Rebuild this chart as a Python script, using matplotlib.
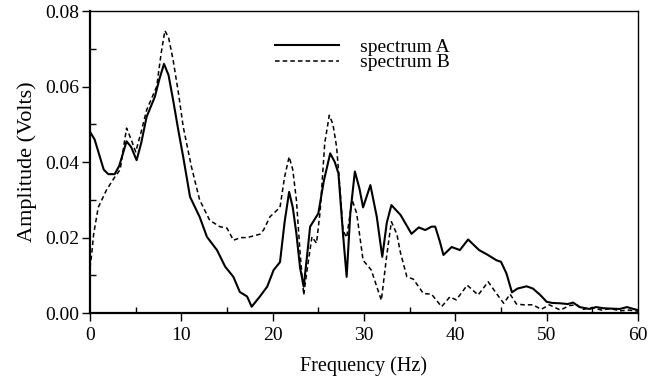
import matplotlib
matplotlib.use("Agg")
import matplotlib.pyplot as plt
from matplotlib.ticker import MultipleLocator, FormatStrFormatter

plt.rcParams['font.family'] = ['Liberation Serif', 'DejaVu Serif']

freq_a = [0.0, 0.5, 1.0, 1.5, 2.0, 2.7, 3.2, 4.0, 4.5, 5.1, 5.6, 6.2, 7.1, 7.6, 8.1, 8.6,
          9.1, 9.7, 10.2, 10.95, 12.0, 12.8, 13.9, 14.8, 15.7, 16.4, 17.2, 17.7, 18.6,
          19.4, 20.1, 20.8, 21.3, 21.8, 22.2, 22.6, 23.0, 23.4, 23.8, 24.1, 25.0, 25.6,
          26.3, 26.8, 27.2, 27.7, 28.1, 28.5, 29.0, 29.5, 29.9, 30.7, 31.4, 32.0, 32.5,
          33.0, 34.0, 35.2, 36.0, 36.7, 37.4, 37.8, 38.3, 38.7, 39.6, 40.5, 41.4, 42.6,
          43.5, 44.5, 45.0, 45.6, 46.2, 46.8, 47.8, 48.5, 49.3, 50.0, 50.6, 51.5, 52.3,
          52.9, 53.6, 54.7, 55.4, 56.2, 57.0, 58.0, 58.8, 59.5, 60.0]
amp_a = [0.048, 0.046, 0.042, 0.038, 0.0368, 0.0368, 0.039, 0.0455, 0.044, 0.0405, 0.045,
         0.052, 0.0573, 0.062, 0.066, 0.063, 0.0564, 0.048, 0.0414, 0.0308, 0.0255, 0.0202,
         0.0167, 0.0123, 0.0096, 0.0056, 0.0044, 0.0017, 0.0044, 0.007, 0.0114, 0.0135,
         0.024, 0.0321, 0.028, 0.021, 0.012, 0.007, 0.016, 0.0229, 0.0264, 0.035, 0.0423,
         0.040, 0.037, 0.021, 0.0096, 0.0264, 0.0375, 0.033, 0.028, 0.0339, 0.0255, 0.0149,
         0.024, 0.0286, 0.026, 0.021, 0.0227, 0.022, 0.0229, 0.0229, 0.019, 0.0154, 0.0175,
         0.0167, 0.0195, 0.0167, 0.0155, 0.014, 0.0136, 0.0105, 0.0055, 0.0065, 0.0071,
         0.0065, 0.0048, 0.003, 0.0027, 0.0026, 0.0024, 0.0028, 0.0016, 0.0011, 0.0016,
         0.0013, 0.0012, 0.0011, 0.0016, 0.0011, 0.0008]

freq_b = [0.0, 0.2, 0.4, 0.9, 1.8, 2.7, 3.3, 4.0, 4.5, 5.0, 5.6, 6.2, 7.3, 7.8, 8.2, 8.6,
          9.1, 9.7, 10.2, 11.1, 12.0, 13.1, 14.2, 15.0, 15.7, 16.5, 17.2, 18.6, 19.0, 19.7,
          20.8, 21.3, 21.8, 22.2, 22.6, 23.0, 23.4, 23.8, 24.3, 24.8, 25.2, 25.7, 26.2,
          26.6, 27.0, 27.4, 27.7, 28.1, 28.7, 29.2, 29.9, 30.8, 31.4, 31.9, 32.5, 33.0,
          33.6, 34.0, 34.7, 35.4, 36.5, 37.4, 38.5, 39.4, 40.1, 41.3, 42.5, 43.6, 44.5,
          45.3, 46.0, 46.7, 47.5, 48.5, 49.4, 50.3, 51.5, 52.5, 53.3, 54.0, 55.0, 56.0,
          57.0, 58.0, 59.0, 60.0]
amp_b = [0.012, 0.016, 0.021, 0.028, 0.0326, 0.036, 0.038, 0.049, 0.046, 0.0427, 0.048,
         0.0538, 0.060, 0.069, 0.0748, 0.073, 0.067, 0.058, 0.0494, 0.0388, 0.030, 0.0246,
         0.0229, 0.0225, 0.0193, 0.020, 0.020, 0.0209, 0.022, 0.0255, 0.028, 0.036, 0.0414,
         0.038, 0.0299, 0.016, 0.0048, 0.012, 0.0202, 0.0185, 0.027, 0.045, 0.0524, 0.050,
         0.044, 0.032, 0.0219, 0.020, 0.030, 0.0264, 0.014, 0.0114, 0.007, 0.0034, 0.0155,
         0.0242, 0.0209, 0.0159, 0.0096, 0.009, 0.0052, 0.005, 0.0017, 0.0043, 0.0035,
         0.0074, 0.0048, 0.0083, 0.0052, 0.0026, 0.005, 0.0024, 0.0022, 0.0022, 0.001,
         0.0022, 0.0008, 0.002, 0.0022, 0.001, 0.0015, 0.0008, 0.0012, 0.0006, 0.0008,
         0.0005]

series_labels = ['spectrum A', 'spectrum B']
x_label = 'Frequency (Hz)'
y_label = 'Amplitude (Volts)'

fig = plt.figure(figsize=(6.5, 3.8), dpi=100)
ax = fig.add_axes([0.1385, 0.176, 0.843, 0.795])

ax.plot(freq_a, amp_a, color='black', lw=1.5, solid_joinstyle='round', label=series_labels[0])
ax.plot(freq_b, amp_b, color='black', lw=1.1, dashes=(3, 2), dash_joinstyle='round',
        label=series_labels[1])

ax.set_xlim(0, 60)
ax.set_ylim(0, 0.08)
ax.xaxis.set_major_locator(MultipleLocator(10))
ax.xaxis.set_minor_locator(MultipleLocator(5))
ax.yaxis.set_major_locator(MultipleLocator(0.02))
ax.yaxis.set_minor_locator(MultipleLocator(0.01))
ax.yaxis.set_major_formatter(FormatStrFormatter('%.2f'))
ax.tick_params(which='major', direction='out', length=6, width=1.0, labelsize=14)
ax.tick_params(axis='x', which='major', pad=4)
ax.tick_params(axis='y', which='major', pad=1.5)
ax.tick_params(which='minor', direction='in', length=4, width=1.0)
for s in ax.spines.values():
    s.set_linewidth(1.0)
ax.spines['left'].set_linewidth(1.6)
ax.spines['bottom'].set_linewidth(1.6)

ax.set_xlabel(x_label, fontsize=14.5, labelpad=9)
ax.set_ylabel(y_label, fontsize=16, labelpad=6)

ax.legend(loc='upper left', bbox_to_anchor=(0.338, 0.91), frameon=False,
          fontsize=14, handlelength=3.3, handletextpad=1.05, labelspacing=-0.1,
          borderpad=0, borderaxespad=0)

fig.savefig('out.png', dpi=100)
